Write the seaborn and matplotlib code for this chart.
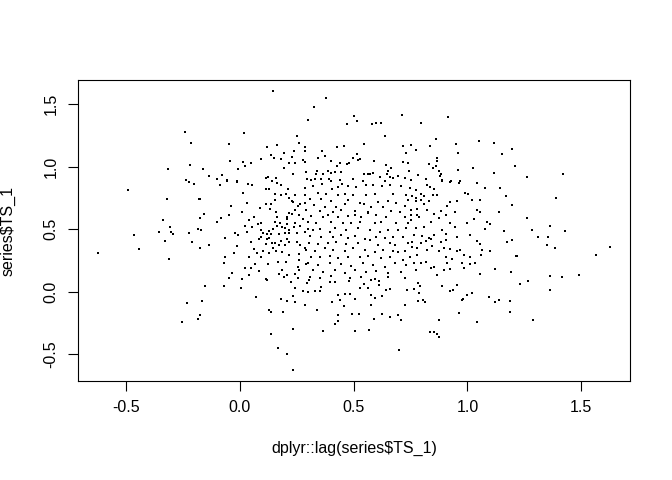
import numpy as np
import pandas as pd
import matplotlib
matplotlib.use("Agg")
import matplotlib.pyplot as plt
import seaborn as sns

# (lag(TS_1), TS_1) pairs, grouped by region
left_tail = [
    (-0.243, 1.275), (-0.214, 1.19), (-0.219, 1.013), (-0.314, 0.98), (-0.238, 0.894),
    (-0.222, 0.875), (-0.200, 0.86), (-0.490, 0.815), (-0.319, 0.744), (-0.178, 0.744),
    (-0.174, 0.585), (-0.336, 0.569), (-0.308, 0.518), (-0.354, 0.481), (-0.301, 0.479),
    (-0.294, 0.458), (-0.464, 0.455), (-0.222, 0.471), (-0.183, 0.497), (-0.330, 0.405),
    (-0.209, 0.40), (-0.174, 0.352), (-0.442, 0.339), (-0.621, 0.307), (-0.311, 0.259),
    (-0.231, -0.09), (-0.175, -0.185), (-0.183, -0.217), (-0.253, -0.241),
]

top_left = [
    (0.145, 1.603), (0.019, 1.267), (0.251, 1.243), (0.26, 1.19), (-0.047, 1.18),
    (0.164, 1.172), (0.12, 1.156), (0.288, 1.159), (0.237, 1.124), (0.194, 1.109),
    (0.286, 1.124), (0.137, 1.093), (0.149, 1.069), (0.091, 1.063), (0.183, 1.058),
    (0.229, 1.079), (0.278, 1.056), (-0.042, 1.045), (0.012, 1.04), (0.051, 1.032),
    (0.216, 1.026), (0.241, 1.029), (0.288, 1.04), (0.021, 1.005), (0.196, 0.99),
    (-0.006, 0.982), (-0.161, 0.982), (0.291, 0.958), (0.232, 0.939), (-0.08, 0.929),
    (-0.137, 0.926), (0.113, 0.91), (0.123, 0.915), (0.161, 0.91), (-0.101, 0.899),
    (-0.058, 0.891), (-0.014, 0.883), (0.142, 0.881),
]

top_mid = [
    (0.38, 1.545), (0.328, 1.476), (0.301, 1.37), (0.501, 1.405), (0.714, 1.413),
    (0.471, 1.339), (0.516, 1.365), (0.582, 1.339), (0.598, 1.347), (0.62, 1.347),
    (0.636, 1.248), (0.545, 1.183), (0.428, 1.159), (0.458, 1.164), (0.718, 1.164),
    (0.75, 1.172), (0.36, 1.124), (0.731, 1.106), (0.513, 1.103), (0.376, 1.085),
    (0.343, 1.066), (0.496, 1.066), (0.526, 1.063), (0.519, 1.05), (0.401, 1.048),
    (0.591, 1.045), (0.479, 1.032), (0.442, 1.029), (0.472, 1.018), (0.718, 1.04),
    (0.738, 1.032), (0.64, 1.016), (0.428, 1.002), (0.665, 0.987), (0.652, 0.966),
    (0.744, 0.968), (0.339, 0.963), (0.389, 0.963), (0.402, 0.952), (0.42, 0.955),
    (0.443, 0.96), (0.336, 0.937), (0.367, 0.939), (0.545, 0.939), (0.563, 0.939),
    (0.573, 0.942), (0.585, 0.95), (0.646, 0.944), (0.615, 0.913), (0.661, 0.915),
    (0.671, 0.91), (0.694, 0.921), (0.724, 0.907), (0.497, 0.899), (0.297, 0.897),
    (0.313, 0.889), (0.332, 0.899), (0.358, 0.897), (0.39, 0.897), (0.399, 0.881),
    (0.44, 0.889), (0.543, 0.881), (0.636, 0.883), (0.75, 0.889),
]

top_right = [
    (0.914, 1.399), (0.795, 1.347), (0.861, 1.217), (1.05, 1.201), (0.95, 1.177),
    (1.118, 1.188), (0.775, 1.135), (0.835, 1.164), (1.194, 1.14), (0.957, 1.109),
    (1.15, 1.101), (0.865, 1.069), (0.865, 1.048), (0.832, 1.021), (0.86, 1.005),
    (0.848, 0.99), (1.026, 0.992), (1.208, 1.005), (0.957, 0.974), (0.874, 0.966),
    (1.118, 0.95), (0.784, 0.931), (0.883, 0.939), (0.879, 0.921), (0.817, 0.899),
    (0.887, 0.891), (0.928, 0.883), (0.966, 0.883),
]

right_tail = [
    (1.418, 0.942), (1.26, 0.918), (1.387, 0.752), (1.26, 0.59), (1.363, 0.521),
    (1.284, 0.492), (1.427, 0.482), (1.311, 0.439), (1.352, 0.434), (1.351, 0.376),
    (1.383, 0.352), (1.624, 0.36), (1.215, 0.288), (1.566, 0.291), (1.488, 0.133),
    (1.361, 0.125), (1.414, 0.117), (1.265, 0.085), (1.229, 0.061), (1.361, 0.013),
    (1.289, -0.225),
]

center_left = [
    (-0.085, 0.855), (-0.058, 0.883), (-0.014, 0.875), (0.034, 0.857), (0.054, 0.849),
    (0.113, 0.82), (0.13, 0.817), (0.162, 0.867), (0.183, 0.852), (0.212, 0.817),
    (0.285, 0.828), (0.014, 0.791), (0.156, 0.783), (0.203, 0.783), (0.183, 0.77),
    (0.243, 0.772), (0.285, 0.775), (0.215, 0.752), (-0.177, 0.744), (0.154, 0.736),
    (0.229, 0.725), (0.234, 0.714), (0.032, 0.712), (0.115, 0.704), (0.135, 0.704),
    (0.266, 0.701), (0.285, 0.712), (-0.039, 0.688), (0.256, 0.685), (0.132, 0.661),
    (0.088, 0.667), (0.244, 0.653), (0.01, 0.64), (0.161, 0.633), (0.215, 0.625),
    (-0.158, 0.619), (0.229, 0.617), (0.259, 0.614), (0.207, 0.598), (-0.048, 0.609),
    (0.063, 0.598), (0.162, 0.598), (-0.177, 0.585), (0.209, 0.579), (0.279, 0.579),
    (-0.083, 0.585), (0.039, 0.571), (-0.1, 0.556), (0.154, 0.558), (0.078, 0.542),
    (0.091, 0.548), (0.241, 0.55), (0.175, 0.545), (0.207, 0.54), (0.021, 0.521),
    (0.054, 0.518), (0.164, 0.526), (0.186, 0.518), (0.236, 0.513), (0.266, 0.526),
    (0.145, 0.503), (0.092, 0.492), (0.129, 0.487), (0.2, 0.505), (0.215, 0.492),
    (0.288, 0.479), (-0.172, 0.492), (-0.023, 0.466), (-0.009, 0.452), (0.032, 0.479),
    (0.102, 0.471), (0.118, 0.463), (0.136, 0.458), (0.174, 0.46), (0.197, 0.466),
    (0.218, 0.471), (0.249, 0.466), (-0.066, 0.429), (0.095, 0.434), (0.083, 0.418),
    (0.12, 0.418), (0.127, 0.426), (0.207, 0.423), (0.051, 0.399), (0.143, 0.391),
    (0.156, 0.386), (0.18, 0.405), (0.215, 0.397), (0.249, 0.399), (-0.136, 0.373),
    (0.115, 0.381), (0.171, 0.371), (0.2, 0.373), (0.263, 0.373), (0.285, 0.347),
    (-0.174, 0.347), (-0.014, 0.367), (0.061, 0.344), (0.146, 0.347), (0.102, 0.328),
    (0.076, 0.312), (0.13, 0.307), (0.186, 0.32), (0.159, 0.328), (0.215, 0.296),
    (0.259, 0.302), (-0.026, 0.307), (-0.063, 0.28), (0.039, 0.28), (0.091, 0.275),
    (0.167, 0.238), (0.205, 0.241), (0.259, 0.254), (-0.07, 0.228), (0.066, 0.222),
    (0.123, 0.222), (0.254, 0.201), (0.291, 0.222), (0.022, 0.193), (0.047, 0.188),
    (0.083, 0.169), (0.186, 0.175), (0.259, 0.175), (-0.034, 0.153), (0.171, 0.143),
    (0.207, 0.135), (0.241, 0.143), (-0.047, 0.109), (0.01, 0.103), (0.113, 0.101),
    (0.193, 0.117), (0.254, 0.106), (0.039, 0.135),
]

center_mid = [
    (0.321, 0.841), (0.361, 0.862), (0.407, 0.823), (0.431, 0.836), (0.45, 0.862),
    (0.475, 0.841), (0.512, 0.836), (0.553, 0.849), (0.585, 0.852), (0.624, 0.841),
    (0.658, 0.855), (0.709, 0.841), (0.746, 0.831), (0.343, 0.788), (0.38, 0.783),
    (0.431, 0.77), (0.461, 0.783), (0.497, 0.775), (0.556, 0.77), (0.595, 0.778),
    (0.673, 0.783), (0.731, 0.77), (0.307, 0.744), (0.358, 0.744), (0.402, 0.725),
    (0.475, 0.73), (0.526, 0.709), (0.545, 0.698), (0.607, 0.717), (0.65, 0.725),
    (0.687, 0.709), (0.738, 0.73), (0.326, 0.69), (0.373, 0.677), (0.424, 0.677),
    (0.461, 0.698), (0.578, 0.677), (0.629, 0.677), (0.724, 0.683), (0.292, 0.651),
    (0.351, 0.646), (0.409, 0.638), (0.446, 0.651), (0.504, 0.646), (0.563, 0.638),
    (0.665, 0.646), (0.702, 0.638), (0.314, 0.603), (0.365, 0.598), (0.387, 0.611),
    (0.431, 0.598), (0.475, 0.603), (0.504, 0.611), (0.534, 0.593), (0.563, 0.625),
    (0.6, 0.611), (0.643, 0.598), (0.724, 0.598), (0.753, 0.611), (0.3, 0.558),
    (0.336, 0.55), (0.402, 0.558), (0.453, 0.545), (0.49, 0.55), (0.526, 0.558),
    (0.592, 0.55), (0.621, 0.558), (0.687, 0.545), (0.738, 0.55), (0.3, 0.497),
    (0.321, 0.492), (0.351, 0.497), (0.395, 0.479), (0.417, 0.505), (0.468, 0.492),
    (0.519, 0.505), (0.57, 0.492), (0.614, 0.479), (0.65, 0.492), (0.694, 0.492),
    (0.731, 0.505), (0.307, 0.444), (0.358, 0.434), (0.409, 0.439), (0.446, 0.452),
    (0.475, 0.426), (0.504, 0.444), (0.548, 0.418), (0.57, 0.413), (0.6, 0.434),
    (0.636, 0.426), (0.673, 0.434), (0.716, 0.439), (0.303, 0.391), (0.343, 0.381),
    (0.387, 0.386), (0.424, 0.399), (0.468, 0.381), (0.519, 0.386), (0.607, 0.373),
    (0.658, 0.386), (0.68, 0.373), (0.738, 0.386), (0.292, 0.333), (0.329, 0.328),
    (0.373, 0.347), (0.409, 0.333), (0.461, 0.328), (0.497, 0.347), (0.548, 0.333),
    (0.592, 0.32), (0.629, 0.333), (0.673, 0.328), (0.694, 0.32), (0.724, 0.328),
    (0.314, 0.28), (0.351, 0.275), (0.395, 0.286), (0.431, 0.267), (0.475, 0.28),
    (0.526, 0.275), (0.563, 0.286), (0.621, 0.267), (0.658, 0.275), (0.716, 0.254),
    (0.746, 0.28), (0.3, 0.228), (0.343, 0.214), (0.395, 0.228), (0.446, 0.222),
    (0.49, 0.206), (0.541, 0.228), (0.585, 0.214), (0.636, 0.201), (0.68, 0.228),
    (0.731, 0.214), (0.321, 0.175), (0.365, 0.161), (0.417, 0.175), (0.461, 0.153),
    (0.504, 0.175), (0.556, 0.161), (0.6, 0.169), (0.65, 0.148), (0.709, 0.161),
    (0.307, 0.117), (0.351, 0.109), (0.402, 0.122), (0.482, 0.109), (0.534, 0.117),
    (0.592, 0.101), (0.65, 0.117), (0.724, 0.109),
]

center_right = [
    (0.823, 0.849), (0.835, 0.836), (0.852, 0.823), (0.889, 0.883), (0.925, 0.875),
    (0.962, 0.867), (1.042, 0.867), (1.079, 0.831), (1.142, 0.831), (0.772, 0.81),
    (0.794, 0.783), (0.757, 0.762), (0.776, 0.752), (0.808, 0.762), (0.849, 0.77),
    (0.867, 0.77), (0.991, 0.788), (1.001, 0.778), (1.167, 0.762), (0.772, 0.725),
    (0.794, 0.736), (0.83, 0.725), (0.925, 0.717), (0.955, 0.725), (1.018, 0.736),
    (1.057, 0.73), (0.808, 0.698), (0.911, 0.683), (1.196, 0.69), (0.75, 0.656),
    (0.779, 0.664), (0.823, 0.651), (0.885, 0.646), (0.943, 0.638), (1.042, 0.651),
    (1.057, 0.635), (1.137, 0.633), (0.779, 0.611), (0.786, 0.593), (0.852, 0.619),
    (0.904, 0.611), (1.028, 0.577), (0.75, 0.571), (0.838, 0.558), (0.874, 0.585),
    (0.925, 0.55), (0.999, 0.545), (1.086, 0.558), (1.101, 0.537), (0.772, 0.505),
    (0.808, 0.518), (0.889, 0.492), (0.947, 0.513), (1.079, 0.497), (1.159, 0.487),
    (0.765, 0.452), (0.801, 0.444), (0.83, 0.426), (0.855, 0.452), (0.904, 0.46),
    (0.955, 0.434), (1.013, 0.452), (0.757, 0.399), (0.794, 0.386), (0.816, 0.407),
    (0.838, 0.418), (0.885, 0.399), (0.904, 0.413), (1.042, 0.407), (1.057, 0.381),
    (1.174, 0.399), (1.196, 0.413), (0.757, 0.36), (0.779, 0.347), (0.82, 0.333),
    (0.845, 0.365), (0.874, 0.328), (0.896, 0.347), (0.925, 0.339), (0.955, 0.328),
    (0.969, 0.333), (1.064, 0.333), (1.101, 0.325), (1.218, 0.286), (0.779, 0.294),
    (0.904, 0.28), (0.933, 0.259), (0.984, 0.294), (1.013, 0.28), (1.06, 0.294),
    (0.765, 0.228), (0.794, 0.233), (0.816, 0.241), (0.911, 0.233), (0.977, 0.233),
    (1.013, 0.222), (1.035, 0.228), (0.838, 0.188), (0.852, 0.196), (0.896, 0.175),
    (0.925, 0.18), (0.984, 0.188), (1.123, 0.18), (1.189, 0.161), (0.864, 0.135),
    (1.057, 0.143), (0.772, 0.175),
]

bottom_left = [
    (-0.155, 0.042), (-0.069, 0.048), (0.003, 0.029), (0.12, 0.09), (0.225, 0.074),
    (0.244, 0.029), (0.278, 0.002), (-0.165, -0.071), (0.072, -0.042), (0.183, -0.058),
    (0.207, -0.071), (0.234, -0.037), (0.244, -0.085), (0.288, -0.103), (-0.177, -0.183),
    (0.127, -0.148), (0.139, -0.161), (0.189, -0.164), (0.234, -0.296), (0.137, -0.336),
    (0.167, -0.447), (0.207, -0.495), (0.232, -0.625),
]

bottom_mid = [
    (0.297, 0.069), (0.304, 0.09), (0.355, 0.037), (0.396, 0.077), (0.417, 0.074),
    (0.479, 0.082), (0.526, 0.029), (0.545, 0.063), (0.563, 0.029), (0.61, 0.082),
    (0.61, 0.056), (0.575, 0.09), (0.298, -0.002), (0.329, 0.002), (0.352, 0.002),
    (0.431, -0.024), (0.461, -0.018), (0.482, -0.016), (0.442, -0.063), (0.504, -0.056),
    (0.575, -0.029), (0.592, -0.05), (0.624, -0.037), (0.643, 0.016), (0.661, 0.024),
    (0.734, 0.016), (0.405, -0.082), (0.456, -0.111), (0.575, -0.103), (0.724, -0.103),
    (0.338, -0.143), (0.43, -0.185), (0.493, -0.175), (0.522, -0.175), (0.626, -0.177),
    (0.659, -0.206), (0.694, -0.185), (0.589, -0.217), (0.433, -0.238), (0.42, -0.256),
    (0.709, -0.23), (0.365, -0.315), (0.507, -0.315), (0.567, -0.307), (0.699, -0.466),
]

bottom_right = [
    (0.784, 0.069), (0.791, 0.048), (0.765, 0.021), (0.786, -0.01), (0.886, 0.042),
    (0.955, 0.056), (0.922, 0.008), (0.936, 0.016), (1.018, -0.01), (0.996, -0.029),
    (0.98, -0.056), (0.974, -0.063), (0.784, -0.074), (0.804, -0.069), (0.813, -0.085),
    (1.093, -0.042), (1.123, -0.082), (1.139, -0.063), (1.186, -0.074), (1.187, -0.161),
    (0.962, -0.169), (0.874, -0.228), (1.041, -0.244), (0.835, -0.32), (0.852, -0.323),
    (0.867, -0.341), (0.873, -0.36),
]

x_ticks = [-0.5, 0.0, 0.5, 1.0, 1.5]
y_ticks = [-0.5, 0.0, 0.5, 1.0, 1.5]
x_label = "dplyr::lag(series$TS_1)"
y_label = "series$TS_1"

regions = [left_tail, top_left, top_mid, top_right, right_tail, center_left,
           center_mid, center_right, bottom_left, bottom_mid, bottom_right]
pts = [p for r in regions for p in r]
df = pd.DataFrame(pts, columns=["lag_ts", "ts"])

sns.set_style("white")
plt.rcParams["font.family"] = ["Liberation Sans", "DejaVu Sans"]
plt.rcParams["text.color"] = "black"
plt.rcParams["axes.labelcolor"] = "black"
plt.rcParams["xtick.color"] = "black"
plt.rcParams["ytick.color"] = "black"

fig = plt.figure(figsize=(6.72, 4.8), dpi=100)
ax = fig.add_axes([78 / 672, 1 - 381 / 480, 552 / 672, 301 / 480])

sns.scatterplot(data=df, x="lag_ts", y="ts", ax=ax, marker="s", s=0.55,
                color="black", linewidth=0, legend=False)

# R style 4% padding around the data range
def r_lim(v):
    lo, hi = v.min(), v.max()
    pad = 0.04 * (hi - lo)
    return lo - pad, hi + pad

ax.set_xlim(*r_lim(df["lag_ts"]))
ax.set_ylim(*r_lim(df["ts"]))

ax.set_xticks(x_ticks)
ax.set_xticklabels([f"{t:.1f}" for t in x_ticks])
ax.set_yticks(y_ticks)
ax.set_yticklabels([f"{t:.1f}" for t in y_ticks], rotation=90, va="center")

ax.tick_params(axis="both", direction="out", length=7, width=0.8, colors="black",
               labelsize=11.5, pad=7, left=True, bottom=True)
for s in ax.spines.values():
    s.set_visible(True)
    s.set_color("black")
    s.set_linewidth(0.8)

ax.set_xlabel(x_label, fontsize=11.5, labelpad=18, color="black")
ax.set_ylabel(y_label, fontsize=11.5, labelpad=20, color="black")

fig.savefig("out.png", dpi=100)
